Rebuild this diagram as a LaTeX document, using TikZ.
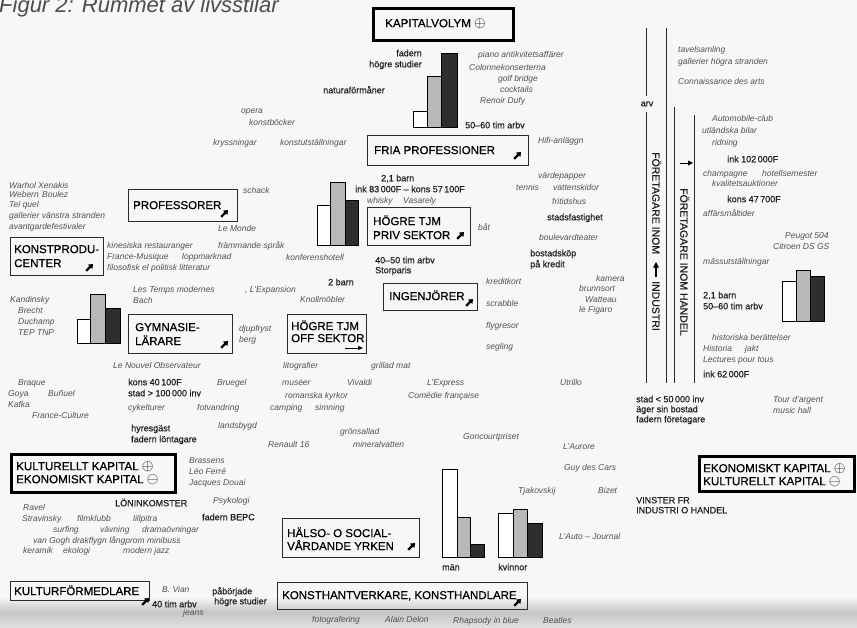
\documentclass[tikz,border=0pt]{standalone}
\usepackage{fontspec}
\usepackage{graphicx}
\setmainfont{Liberation Sans}
\newfontfamily\medfont[FakeBold=0.35]{Liberation Sans}
\newfontfamily\boxfont[FakeBold=0.6]{Liberation Sans}
\usetikzlibrary{arrows.meta}
\definecolor{bg}{HTML}{F7F7F5}
\definecolor{itc}{HTML}{505050}
\definecolor{rgc}{HTML}{1E1E1E}
\definecolor{boxc}{HTML}{2A2A2A}
\definecolor{midbar}{HTML}{B8B8B8}
\definecolor{darkbar}{HTML}{2E2E2E}
\newcommand\cplus{\raisebox{-0.5pt}{\scalebox{1.25}{$\oplus$}}}
\newcommand\cminus{\raisebox{-0.5pt}{\scalebox{1.25}{$\ominus$}}}
\tikzset{
  it/.style={font=\fontsize{8.5}{10}\selectfont\itshape, text=itc, anchor=west, inner sep=0pt, text height=6pt, text depth=0pt},
  rg/.style={font=\fontsize{9}{11}\selectfont\medfont, text=rgc, anchor=west, inner sep=0pt, text height=6.5pt, text depth=0pt},
  bx/.style={draw=boxc, line width=0.9pt, inner sep=0pt, anchor=north west},
  bxthick/.style={draw=black, line width=2.6pt, inner sep=0pt, anchor=north west},
  bxt/.style={font=\fontsize{11.5}{13}\selectfont\boxfont, text=black, anchor=west, inner sep=0pt, text height=8.2pt, text depth=0pt},
  bxtbig/.style={font=\fontsize{11.6}{14}\selectfont\boxfont, text=black, anchor=west, inner sep=0pt, text height=8.4pt, text depth=0pt},
  vtxt/.style={font=\fontsize{10.5}{12}\selectfont\boxfont, text=rgc, anchor=west, inner sep=0pt, rotate=-90, text height=7.5pt, text depth=0pt},
  wbar/.style={draw=black, line width=0.8pt, fill=white},
  gbar/.style={draw=black, line width=0.8pt, fill=midbar},
  dbar/.style={draw=black, line width=0.8pt, fill=darkbar},
  vline/.style={draw=boxc, line width=0.8pt},
  boxicon/.pic={\draw[line width=2.3pt, -{Triangle[length=4pt,width=6pt]}] (-3.8,3.8) -- (3,-3);}
}
\newcommand\itlab[4]{\node[it] (#1) at (#2,#3) {#4};}
\newcommand\rglab[4]{\node[rg] (#1) at (#2,#3) {#4};}
\begin{document}
\begin{tikzpicture}[x=1pt,y=-1pt]
\useasboundingbox (0,0) rectangle (857,627);
\fill[bg] (0,0) rectangle (857,627);
\shade[top color=bg, bottom color=bg!80!gray, middle color=gray!45] (0,597) rectangle (857,627);

% title
\node[anchor=base west, font=\fontsize{22}{24}\selectfont\itshape, text=black!70, inner sep=0pt] (title) at (-1,12) {Figur 2: Rummet av livsstilar};

% ---------- boxes ----------
\node[bxthick, minimum width=140pt, minimum height=32pt] (kap) at (372,7) {};
\node[bxtbig] (kapt) at (385,23) {KAPITALVOLYM \cplus};

\node[bx, minimum width=161pt, minimum height=30pt] (fria) at (367,135) {};
\node[bxt] (friat) at (374,150) {FRIA PROFESSIONER};
\pic at (518,155) {boxicon};

\node[bx, minimum width=103pt, minimum height=38pt] (priv) at (367,207) {};
\node[bxt] (privt1) at (373,221) {HÖGRE TJM};
\node[bxt] (privt2) at (373,235) {PRIV SEKTOR};
\pic at (461,235) {boxicon};

\node[bx, minimum width=94pt, minimum height=27pt] (ingen) at (383,283) {};
\node[bxt] (ingent) at (389,296) {INGENJÖRER};
\pic at (470,302) {boxicon};

\node[bx, minimum width=79pt, minimum height=39pt] (off) at (287,314) {};
\node[bxt] (offt1) at (291,326) {HÖGRE TJM};
\node[bxt] (offt2) at (291,338) {OFF SEKTOR};
\coordinate (offa) at (345,348);
\coordinate (offb) at (363,348);
\draw[line width=0.9pt, -{Triangle[length=5pt,width=4pt]}] (offa) -- (offb);

\node[bx, minimum width=104pt, minimum height=39pt] (gymn) at (128,314) {};
\node[bxt] (gymnt1) at (135,327) {GYMNASIE-};
\node[bxt] (gymnt2) at (135,341) {LÄRARE};
\pic at (225,344) {boxicon};

\node[bx, minimum width=109pt, minimum height=32pt] (prof) at (128,189) {};
\node[bxt] (proft) at (133,205) {PROFESSORER};
\pic at (225,213) {boxicon};

\node[bx, minimum width=93pt, minimum height=38pt] (kprod) at (10,237) {};
\node[bxt] (kprodt1) at (14,249) {KONSTPRODU-};
\node[bxt] (kprodt2) at (14,263) {CENTER};
\pic at (90,267) {boxicon};

\node[bxthick, minimum width=164pt, minimum height=38pt] (kult) at (10,453) {};
\node[bxtbig] (kultt1) at (16,466) {KULTURELLT KAPITAL \cplus};
\node[bxtbig] (kultt2) at (16,479) {EKONOMISKT KAPITAL \cminus};

\node[bx, minimum width=139pt, minimum height=19pt] (kform) at (10,581) {};
\node[bxt] (kformt) at (14,591) {KULTURFÖRMEDLARE};
\pic at (146,601) {boxicon};

\node[bx, minimum width=250pt, minimum height=27pt] (khant) at (277,582) {};
\node[bxt] (khantt) at (282,595) {KONSTHANTVERKARE, KONSTHANDLARE};
\pic at (518,602) {boxicon};

\node[bx, minimum width=137pt, minimum height=39pt] (halso) at (282,518) {};
\node[bxt] (halsot1) at (287,533) {HÄLSO- O SOCIAL-};
\node[bxt] (halsot2) at (287,546) {VÅRDANDE YRKEN};
\pic at (412,546) {boxicon};

\node[bxthick, minimum width=155pt, minimum height=35pt] (ekon) at (698,455) {};
\node[bxtbig] (ekont1) at (703,468) {EKONOMISKT KAPITAL \cplus};
\node[bxtbig] (ekont2) at (703,481) {KULTURELLT KAPITAL \cminus};

% ---------- bar charts ----------
\draw[wbar] (413,111) rectangle (427,127);
\draw[gbar] (427,76) rectangle (441,127);
\draw[dbar] (441,53) rectangle (457,127);

\draw[wbar] (317,205) rectangle (330,245);
\draw[gbar] (330,182) rectangle (345,245);
\draw[dbar] (345,200) rectangle (358,245);

\draw[wbar] (77,319) rectangle (90,343);
\draw[gbar] (90,294) rectangle (105,343);
\draw[dbar] (105,308) rectangle (120,343);

\draw[wbar] (782,281) rectangle (796,321);
\draw[gbar] (796,270) rectangle (810,321);
\draw[dbar] (810,276) rectangle (824,321);

\draw[wbar] (442,469) rectangle (457,557);
\draw[gbar] (457,517) rectangle (470,557);
\draw[dbar] (470,544) rectangle (484,557);

\draw[wbar] (498,513) rectangle (513,557);
\draw[gbar] (513,509) rectangle (527,557);
\draw[dbar] (527,523) rectangle (542,557);

% ---------- vertical columns ----------
\draw[vline] (646,28) -- (646,96);
\draw[vline] (646,112) -- (646,383);
\draw[vline] (666,28) -- (666,383);
\draw[vline] (674,107) -- (674,383);
\draw[vline] (694,115) -- (694,383);
\node[rg, anchor=center] (arv) at (647,103) {arv};
\node[vtxt] (ind1) at (656,152) {FÖRETAGARE INOM};
\coordinate (indarrA) at (656,277);
\coordinate (indarrB) at (656,262);
\draw[line width=1.2pt, -{Triangle[length=5.5pt,width=5.5pt]}] (indarrA) -- (indarrB);
\node[vtxt] (ind2) at (656,281) {INDUSTRI};
\node[vtxt] (hand) at (684,188) {FÖRETAGARE INOM HANDEL};
\coordinate (handA) at (680,163);
\coordinate (handB) at (693,163);
\draw[line width=0.9pt, -{Triangle[length=5pt,width=5pt]}] (handA) -- (handB);

% ---------- regular labels ----------
\node[rg, anchor=east] (fad1) at (422,53) {fadern};
\node[rg, anchor=east] (fad2) at (422,64) {högre studier};
\rglab{nat}{323}{90}{naturaförmåner}
\rglab{tim1}{465}{125}{50–60 tim arbv}
\rglab{barn1}{381}{178}{2,1 barn}
\rglab{ink1}{355}{189}{ink 83\,000F – kons 57\,100F}
\rglab{stadsf}{547}{217}{stadsfastighet}
\rglab{bost1}{530}{253}{bostadsköp}
\rglab{bost2}{530}{264}{på kredit}
\rglab{tim2}{375}{260}{40–50 tim arbv}
\rglab{storp}{375}{270}{Storparis}
\rglab{barn2}{328}{282}{2 barn}
\rglab{kons40}{128}{382}{kons 40\,100F}
\rglab{stad1}{128}{393}{stad > 100\,000 inv}
\rglab{hyr}{131}{428}{hyresgäst}
\rglab{fadlon}{131}{439}{fadern löntagare}
\rglab{lonink}{115}{503}{LÖNINKOMSTER}
\rglab{bepc}{202}{517}{fadern BEPC}
\rglab{tim3}{152}{604}{40 tim arbv}
\rglab{pab}{212}{591}{påbörjade}
\rglab{hogst}{214}{601}{högre studier}
\rglab{man}{442}{567}{män}
\rglab{kvin}{498}{567}{kvinnor}
\rglab{vin1}{636}{500}{VINSTER FR}
\rglab{vin2}{636}{510}{INDUSTRI O HANDEL}
\rglab{stad2}{636}{399}{stad < 50\,000 inv}
\rglab{ager}{636}{409}{äger sin bostad}
\rglab{fadfor}{636}{419}{fadern företagare}
\rglab{ink62}{703}{374}{ink 62\,000F}
\rglab{barn3}{703}{295}{2,1 barn}
\rglab{tim4}{703}{306}{50–60 tim arbv}
\rglab{ink102}{727}{159}{ink 102\,000F}
\rglab{kons47}{727}{199}{kons 47\,700F}

% ---------- italic labels ----------
\itlab{opera}{241}{110}{opera}
\itlab{kbok}{249}{122}{konstböcker}
\itlab{kryss}{213}{142}{kryssningar}
\itlab{kutst}{280}{142}{konstutställningar}
\itlab{piano}{478}{54}{piano antikvitetsaffärer}
\itlab{colon}{469}{67}{Colonnekonserterna}
\itlab{golf}{498}{78}{golf bridge}
\itlab{cock}{500}{89}{cocktails}
\itlab{renoir}{480}{100}{Renoir Dufy}
\itlab{hifi}{538}{140}{Hifi-anläggn}
\itlab{vard}{538}{175}{värdepapper}
\itlab{tennis}{516}{187}{tennis}
\itlab{vatten}{553}{187}{vattenskidor}
\itlab{fritid}{552}{201}{fritidshus}
\itlab{boul}{539}{237}{boulevardteater}
\itlab{kamera}{596}{278}{kamera}
\itlab{brunn}{579}{288}{brunnsort}
\itlab{watt}{585}{299}{Watteau}
\itlab{figaro}{579}{309}{le Figaro}
\itlab{kredit}{486}{281}{kreditkort}
\itlab{scrab}{486}{303}{scrabble}
\itlab{flyg}{486}{325}{flygresor}
\itlab{segl}{486}{346}{segling}
\itlab{lexp}{427}{382}{L'Express}
\itlab{comed}{408}{395}{Comédie française}
\itlab{utrillo}{560}{382}{Utrillo}
\itlab{whisky}{367}{200}{whisky}
\itlab{vasar}{403}{200}{Vasarely}
\itlab{bat}{478}{227}{båt}
\itlab{knoll}{300}{299}{Knollmöbler}
\itlab{lexpan}{245}{289}{, L'Expansion}
\itlab{temps}{133}{289}{Les Temps modernes}
\itlab{bach}{133}{300}{Bach}
\itlab{djup}{239}{328}{djupfryst}
\itlab{berg}{239}{339}{berg}
\itlab{kand}{10}{299}{Kandinsky}
\itlab{brecht}{18}{310}{Brecht}
\itlab{duch}{18}{321}{Duchamp}
\itlab{tep}{18}{332}{TEP TNP}
\itlab{kines}{107}{245}{kinesiska restauranger}
\itlab{fram}{218}{245}{främmande språk}
\itlab{fmus}{107}{256}{France-Musique}
\itlab{lopp}{182}{256}{loppmarknad}
\itlab{konf}{286}{257}{konferenshotell}
\itlab{filo}{107}{267}{filosofisk el politisk litteratur}
\itlab{lemonde}{218}{228}{Le Monde}
\itlab{schack}{243}{190}{schack}
\itlab{warhol}{9}{185}{Warhol}
\itlab{xen}{38}{185}{Xenakis}
\itlab{webern}{9}{194}{Webern}
\itlab{boulez}{42}{194}{Boulez}
\itlab{telq}{9}{204}{Tel quel}
\itlab{galv}{9}{215}{gallerier vänstra stranden}
\itlab{avant}{9}{226}{avantgardefestivaler}
\itlab{nouvel}{113}{365}{Le Nouvel Observateur}
\itlab{lito}{283}{365}{litografier}
\itlab{grill}{371}{365}{grillad mat}
\itlab{brueg}{217}{382}{Bruegel}
\itlab{musee}{282}{382}{muséer}
\itlab{vivaldi}{347}{382}{Vivaldi}
\itlab{roman}{285}{395}{romanska kyrkor}
\itlab{cykel}{128}{407}{cykelturer}
\itlab{fotv}{197}{407}{fotvandring}
\itlab{camp}{270}{407}{camping}
\itlab{simn}{315}{407}{simning}
\itlab{braque}{18}{382}{Braque}
\itlab{goya}{8}{393}{Goya}
\itlab{bunuel}{48}{393}{Buñuel}
\itlab{kafka}{8}{404}{Kafka}
\itlab{fcult}{32}{415}{France-Culture}
\itlab{lands}{218}{425}{landsbygd}
\itlab{gron}{340}{431}{grönsallad}
\itlab{renault}{268}{444}{Renault 16}
\itlab{miner}{353}{444}{mineralvatten}
\itlab{brass}{189}{460}{Brassens}
\itlab{leo}{189}{471}{Léo Ferré}
\itlab{jacq}{189}{482}{Jacques Douai}
\itlab{psyk}{213}{500}{Psykologi}
\itlab{ravel}{23}{507}{Ravel}
\itlab{strav}{22}{518}{Stravinsky}
\itlab{film}{77}{518}{filmklubb}
\itlab{lill}{133}{518}{lillpitra}
\itlab{surf}{53}{529}{surfing}
\itlab{vav}{100}{529}{vävning}
\itlab{drama}{142}{529}{dramaövningar}
\itlab{gogh}{33}{540}{van Gogh drakflygn långprom minibuss}
\itlab{keram}{23}{550}{keramik}
\itlab{ekol}{63}{550}{ekologi}
\itlab{jazz}{123}{550}{modern jazz}
\itlab{vian}{162}{589}{B. Vian}
\itlab{jeans}{183}{612}{jeans}
\itlab{foto}{312}{619}{fotografering}
\itlab{delon}{385}{619}{Alain Delon}
\itlab{rhap}{453}{620}{Rhapsody in blue}
\itlab{beat}{543}{620}{Beatles}
\itlab{gonc}{463}{436}{Goncourtpriset}
\itlab{aurore}{563}{446}{L'Aurore}
\itlab{guy}{564}{467}{Guy des Cars}
\itlab{tjak}{518}{490}{Tjakovskij}
\itlab{bizet}{598}{490}{Bizet}
\itlab{lauto}{559}{536}{L'Auto – Journal}
\itlab{tour}{773}{399}{Tour d'argent}
\itlab{music}{773}{410}{music hall}
\itlab{hist}{712}{337}{historiska berättelser}
\itlab{histo}{703}{348}{Historia}
\itlab{jakt}{745}{348}{jakt}
\itlab{lect}{703}{359}{Lectures pour tous}
\itlab{mass}{703}{261}{mässutställningar}
\itlab{peug}{785}{235}{Peugot 504}
\itlab{citr}{773}{246}{Citroen DS GS}
\itlab{affar}{703}{213}{affärsmåltider}
\itlab{tavel}{678}{49}{tavelsamling}
\itlab{galh}{678}{61}{gallerier högra stranden}
\itlab{conn}{678}{81}{Connaissance des arts}
\itlab{auto}{712}{118}{Automobile-club}
\itlab{utl}{702}{130}{utländska bilar}
\itlab{ridn}{712}{142}{ridning}
\itlab{champ}{703}{173}{champagne}
\itlab{hotell}{762}{173}{hotellsemester}
\itlab{kval}{712}{183}{kvalitetsauktioner}
\end{tikzpicture}
\end{document}
